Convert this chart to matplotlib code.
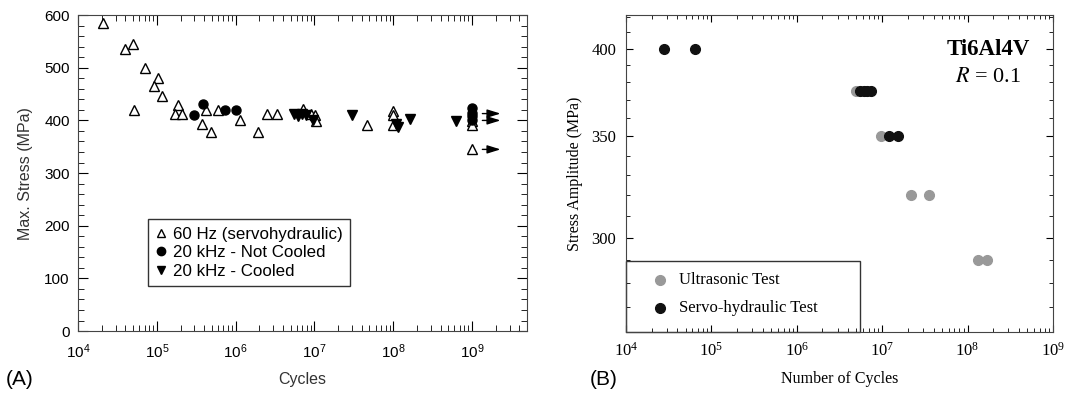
import matplotlib
matplotlib.use("Agg")
import matplotlib.pyplot as plt
from matplotlib.ticker import FixedLocator, FixedFormatter, NullFormatter, LogLocator
from matplotlib.patches import Rectangle
from matplotlib.lines import Line2D

# (A) Ti-6Al-4V, max. stress vs cycles
hz60_n = [2.1e4, 3.9e4, 5e4, 5.2e4, 7e4, 1.03e5, 9.1e4, 1.16e5, 1.84e5, 1.7e5,
          2.1e5, 3.76e5, 4.2e5, 4.9e5, 6e5, 1.13e6, 1.93e6, 2.5e6, 3.4e6, 7.2e6,
          9e6, 1.02e7, 1.05e7, 4.7e7, 1.0e8, 1.0e8, 1.0e8, 1e9, 1e9, 1e9]
hz60_s = [585, 535, 546, 420, 500, 480, 465, 447, 430, 413,
          413, 393, 420, 378, 420, 400, 378, 413, 413, 421,
          413, 410, 398, 392, 418, 410, 392, 399, 392, 345]
nc_n = [3e5, 3.85e5, 7.3e5, 1.02e6, 1e9, 1e9, 1e9, 1e9]
nc_s = [410, 431, 420, 420, 423, 415, 408, 401]
cool_n = [5.5e6, 6.2e6, 7e6, 7.8e6, 9.6e6, 3e7, 1.1e8, 1.15e8, 1.65e8, 6.3e8]
cool_s = [412, 408, 413, 410, 400, 410, 394, 388, 402, 399]
runout_s = [413, 400, 345]

# (B) stress amplitude, R = 0.1
ultra_n = [5e6, 9.7e6, 2.2e7, 3.5e7, 1.33e8, 1.7e8]
ultra_s = [375, 350, 320, 320, 290, 290]
servo_n = [2.8e4, 6.5e4, 5.5e6, 6.1e6, 6.7e6, 7.3e6, 1.2e7, 1.55e7]
servo_s = [400, 400, 375, 375, 375, 375, 350, 350]

fig = plt.figure(figsize=(10.69, 3.97), dpi=100)

# ---- panel A ----
sans = ["Liberation Sans", "DejaVu Sans"]
axA = fig.add_axes([0.073, 0.166, 0.42, 0.796])
axA.plot(hz60_n, hz60_s, ls="none", marker="^", mfc="white", mec="black", mew=1.0, ms=7.5)
axA.plot(nc_n, nc_s, ls="none", marker="o", color="black", ms=6.5)
axA.plot(cool_n, cool_s, ls="none", marker="v", color="black", ms=7.5)
for s in runout_s:
    axA.annotate("", xy=(2.5e9, s), xytext=(1.25e9, s),
                 arrowprops=dict(arrowstyle="-|>,head_length=0.8,head_width=0.25",
                                 color="black", lw=1.0))
axA.set_xscale("log")
axA.set_xlim(1e4, 5e9)
axA.set_ylim(0, 600)
axA.set_yticks(range(0, 601, 100))
axA.yaxis.set_minor_locator(FixedLocator(range(0, 601, 20)))
axA.xaxis.set_major_locator(LogLocator(base=10, numticks=12))
axA.xaxis.set_minor_locator(LogLocator(base=10, subs=range(2, 10), numticks=12))
axA.xaxis.set_minor_formatter(NullFormatter())
axA.tick_params(which="both", direction="in", top=True, right=True, labelsize=11)
axA.tick_params(axis="x", pad=8)
axA.tick_params(axis="y", pad=6)
axA.tick_params(which="major", length=7)
axA.tick_params(which="minor", length=4)
for lab in axA.get_xticklabels() + axA.get_yticklabels():
    lab.set_family(sans)
axA.set_xlabel("Cycles", family=sans, fontsize=11.5, color="#333333", labelpad=8)
axA.set_ylabel("Max. Stress (MPa)", family=sans, fontsize=11.5, color="#333333", labelpad=8)
for sp in axA.spines.values():
    sp.set_color("#444444")
leg_handles = [
    Line2D([], [], ls="none", marker="^", mfc="white", mec="black", ms=6),
    Line2D([], [], ls="none", marker="o", color="black", ms=6),
    Line2D([], [], ls="none", marker="v", color="black", ms=6),
]
legA = axA.legend(leg_handles, ["60 Hz (servohydraulic)", "20 kHz - Not Cooled", "20 kHz - Cooled"],
                  loc="upper left", bbox_to_anchor=(0.156, 0.354), borderaxespad=0,
                  fancybox=False, edgecolor="#333333", framealpha=1, handlelength=0.6,
                  handletextpad=0.4, borderpad=0.45, labelspacing=0.2,
                  prop={"family": sans, "size": 12.2})
legA.get_frame().set_linewidth(1.0)
fig.text(0.005, 0.02, "(A)", family=sans, fontsize=15, va="bottom")

# ---- panel B ----
serif = ["Liberation Serif", "DejaVu Serif"]
axB = fig.add_axes([0.5856, 0.1637, 0.3994, 0.7985])
axB.plot(ultra_n, ultra_s, ls="none", marker="o", color="#999999", ms=7)
axB.plot(servo_n, servo_s, ls="none", marker="o", color="#111111", ms=7)
axB.set_xscale("log")
axB.set_yscale("log")
axB.set_xlim(1e4, 1e9)
axB.set_ylim(260, 421)
axB.yaxis.set_major_locator(FixedLocator([300, 350, 400]))
axB.yaxis.set_minor_locator(FixedLocator(range(270, 421, 10)))
axB.yaxis.set_major_formatter(FixedFormatter(["300", "350", "400"]))
axB.yaxis.set_minor_formatter(NullFormatter())
axB.xaxis.set_major_locator(LogLocator(base=10, numticks=12))
axB.xaxis.set_minor_locator(LogLocator(base=10, subs=range(2, 10), numticks=12))
axB.xaxis.set_minor_formatter(NullFormatter())
axB.tick_params(which="both", direction="in", top=True, right=True, labelsize=12, pad=7)
axB.tick_params(which="major", length=5)
axB.tick_params(which="minor", length=3)
for lab in axB.get_xticklabels() + axB.get_yticklabels():
    lab.set_family(serif)
    lab.set_math_fontfamily("stix")
axB.set_xlabel("Number of Cycles", family=serif, fontsize=11.5, labelpad=8)
axB.set_ylabel("Stress Amplitude (MPa)", family=serif, fontsize=11.5, labelpad=6)
for sp in axB.spines.values():
    sp.set_color("#444444")
axB.add_patch(Rectangle((0, 0), 0.548, 0.224, transform=axB.transAxes, fill=False,
                        edgecolor="#333333", lw=1.0, clip_on=False))
axB.plot([0.08], [0.164], transform=axB.transAxes, marker="o", color="#999999", ms=7)
axB.plot([0.08], [0.076], transform=axB.transAxes, marker="o", color="#111111", ms=7)
axB.text(0.125, 0.164, "Ultrasonic Test", transform=axB.transAxes, family=serif,
         fontsize=12, va="center")
axB.text(0.125, 0.076, "Servo-hydraulic Test", transform=axB.transAxes, family=serif,
         fontsize=12, va="center")
axB.text(0.848, 0.89, "Ti6Al4V", transform=axB.transAxes, family=serif, fontsize=16.5,
         weight="bold", ha="center", va="center")
axB.text(0.848, 0.804, "$R$ = 0.1", transform=axB.transAxes, family=serif, fontsize=16,
         math_fontfamily="stix", ha="center", va="center")
fig.text(0.552, 0.02, "(B)", family=sans, fontsize=15, va="bottom")

fig.savefig("out.png", dpi=100)
